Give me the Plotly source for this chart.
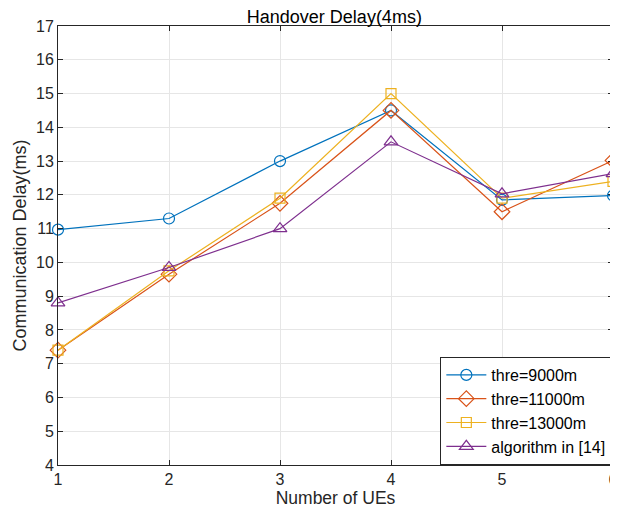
import plotly.graph_objects as go

ues = [1, 2, 3, 4, 5, 6]
thre9000 = [10.97, 11.3, 13.0, 14.5, 11.85, 11.98]
thre11000 = [7.4, 9.65, 11.75, 14.5, 11.5, 13.02]
thre13000 = [7.4, 9.75, 11.9, 15.0, 11.9, 12.4]
algo14 = [8.8, 9.85, 11.0, 13.57, 12.03, 12.63]
x_ticks = [1, 2, 3, 4, 5, 6]
x_ticklabels = ["1", "2", "3", "4", "5", "6"]

names = ["thre=9000m", "thre=11000m", "thre=13000m", "algorithm in [14]"]
series = [thre9000, thre11000, thre13000, algo14]
colors = ["#0072BD", "#D95319", "#EDB120", "#7E2F8E"]
symbols = ["circle-open", "diamond-open", "square-open", "triangle-up-open"]
sizes = [11, 12, 10, 12]

fig = go.Figure()
for n, s, c, sym, sz in zip(names, series, colors, symbols, sizes):
    fig.add_trace(go.Scatter(
        x=ues, y=s, name=n, mode="lines+markers", cliponaxis=False,
        line=dict(color=c, width=1.2),
        marker=dict(symbol=sym, size=sz, color=c, line=dict(width=1.2, color=c)),
    ))

axis_common = dict(
    showgrid=True, gridcolor="#E6E6E6", gridwidth=1,
    showline=True, linecolor="#262626", linewidth=1, mirror="ticks",
    ticks="inside", ticklen=5, tickcolor="#262626",
    tickfont=dict(size=16, color="#262626"),
    zeroline=False, automargin=False,
)

# page has an 8px body margin, so the figure is sized 8px smaller
fig.update_layout(
    width=610, height=514,
    margin=dict(l=50, r=5, t=18, b=57),
    paper_bgcolor="white", plot_bgcolor="white",
    font=dict(family="Liberation Sans, Arial, sans-serif", color="#262626"),
    title=dict(text="Handover Delay(4ms)", x=0.535, xanchor="center", y=0.995, yanchor="top",
               font=dict(size=18, color="#000000")),
    xaxis=dict(range=[1, 6], tickmode="array", tickvals=x_ticks, ticktext=x_ticklabels,
               ticklabeloverflow="allow",
               title=dict(text="Number of UEs", font=dict(size=17.5, color="#262626"), standoff=4),
               **axis_common),
    yaxis=dict(range=[4, 17], dtick=1,
               title=dict(text="Communication Delay(ms)", font=dict(size=18, color="#262626"), standoff=4),
               **axis_common),
    legend=dict(x=0.997, xanchor="right", y=0.0, yanchor="bottom",
                bgcolor="white", bordercolor="#262626", borderwidth=1,
                font=dict(size=16, color="#000000"), tracegroupgap=0,
                itemwidth=40),
    showlegend=True,
)

fig.write_html("out.html")
